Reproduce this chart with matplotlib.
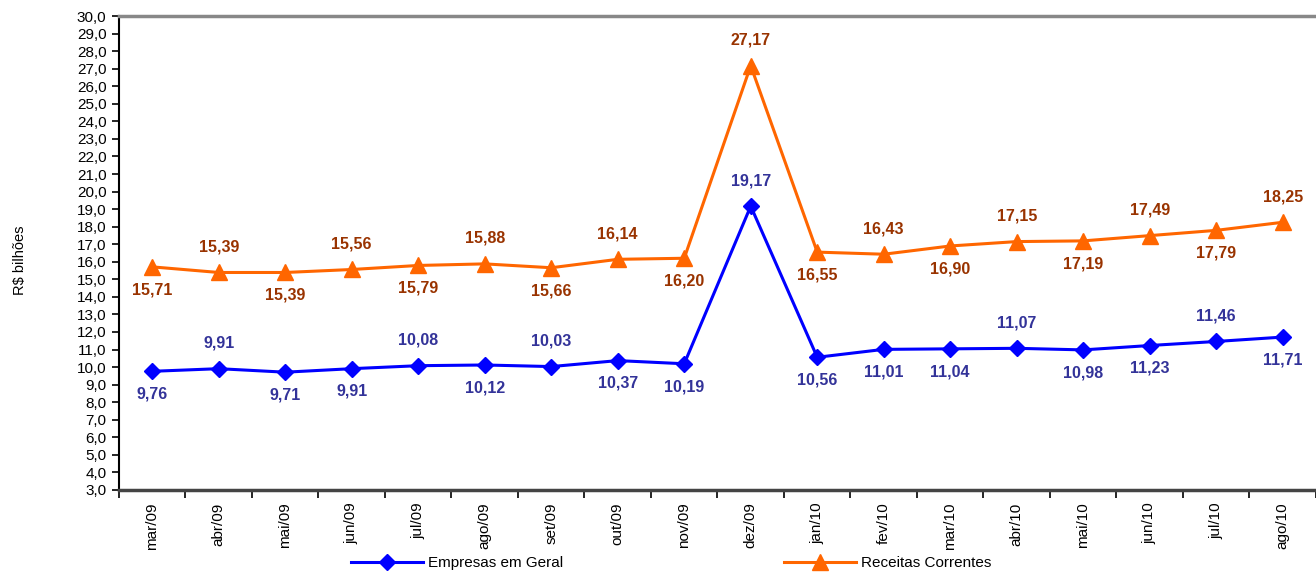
import numpy as np
import matplotlib
matplotlib.use("Agg")
import matplotlib.pyplot as plt
from matplotlib.ticker import FixedLocator, FuncFormatter

plt.rcParams['font.family'] = ['Liberation Sans', 'DejaVu Sans']

# dados
meses = ["mar/09", "abr/09", "mai/09", "jun/09", "jul/09", "ago/09", "set/09",
         "out/09", "nov/09", "dez/09", "jan/10", "fev/10", "mar/10", "abr/10",
         "mai/10", "jun/10", "jul/10", "ago/10"]
empresas = [9.76, 9.91, 9.71, 9.91, 10.08, 10.12, 10.03, 10.37, 10.19, 19.17,
            10.56, 11.01, 11.04, 11.07, 10.98, 11.23, 11.46, 11.71]
receitas = [15.71, 15.39, 15.39, 15.56, 15.79, 15.88, 15.66, 16.14, 16.20, 27.17,
            16.55, 16.43, 16.90, 17.15, 17.19, 17.49, 17.79, 18.25]
# posição do rótulo: 1 = acima, -1 = abaixo
pos_emp = [-1, 1, -1, -1, 1, -1, 1, -1, -1, 1, -1, -1, -1, 1, -1, -1, 1, -1]
pos_rec = [-1, 1, -1, 1, -1, 1, -1, 1, -1, 1, -1, 1, -1, 1, -1, 1, -1, 1]

fig = plt.figure(figsize=(13.16, 5.72), dpi=100)
ax = fig.add_axes([0.0904, 0.1434, 0.9096, 0.8286])

x = np.arange(len(meses))
ax.plot(x, empresas, color="#0000FF", lw=2.2, marker="D", ms=8,
        label="Empresas em Geral", zorder=3)
ax.plot(x, receitas, color="#FF6600", lw=2.2, marker="^", ms=11,
        label="Receitas Correntes", zorder=3)

def fmt(v):
    return f"{v:.2f}".replace(".", ",")

for xi, v, p in zip(x, empresas, pos_emp):
    off = 13 if p > 0 else -11
    ax.annotate(fmt(v), (xi, v), xytext=(0, off), textcoords="offset points",
                ha="center", va="bottom" if p > 0 else "top",
                color="#333399", fontsize=11.5, fontweight="bold")
for xi, v, p in zip(x, receitas, pos_rec):
    off = 13 if p > 0 else -11
    ax.annotate(fmt(v), (xi, v), xytext=(0, off), textcoords="offset points",
                ha="center", va="bottom" if p > 0 else "top",
                color="#993300", fontsize=11.5, fontweight="bold")

ax.set_xlim(-0.5, 17.5)
ax.set_ylim(3, 30)
ax.set_yticks(np.arange(3, 31, 1))
ax.yaxis.set_major_formatter(FuncFormatter(lambda v, _: f"{v:.1f}".replace(".", ",")))
ax.tick_params(axis="y", labelsize=11, direction="out", length=5, width=1.2, pad=4)

ax.xaxis.set_major_locator(FixedLocator(np.arange(-0.5, 18, 1)))
ax.xaxis.set_major_formatter(FuncFormatter(lambda v, _: ""))
ax.xaxis.set_minor_locator(FixedLocator(x))
ax.set_xticklabels(meses, minor=True, rotation=90)
ax.tick_params(axis="x", which="major", direction="out", length=6, width=1.2)
ax.tick_params(axis="x", which="minor", length=0, labelsize=11, pad=9)

ax.spines["top"].set_color("#888888")
ax.spines["top"].set_linewidth(2.5)
ax.spines["right"].set_visible(False)
ax.spines["left"].set_linewidth(1.5)
ax.spines["bottom"].set_color("#444444")
ax.spines["bottom"].set_linewidth(2.5)

fig.text(0.015, 0.545, "R$ bilhões", rotation=90, ha="center", va="center", fontsize=10.5)

fig.legend(loc="center", bbox_to_anchor=(0.51, 0.016), ncol=2, frameon=False,
           fontsize=11, handlelength=4.7, columnspacing=14.5, handletextpad=0.3,
           borderaxespad=0)

fig.savefig("out.png", dpi=100)
